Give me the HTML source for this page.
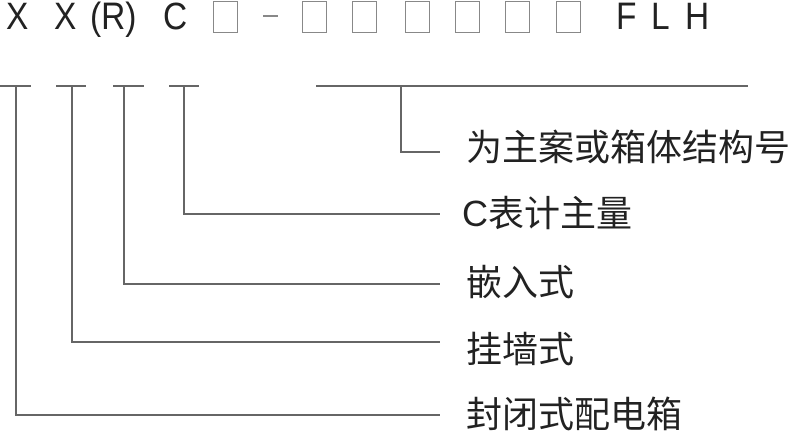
<!DOCTYPE html>
<html><head><meta charset="utf-8"><style>
html,body{margin:0;padding:0;background:#fff;width:800px;height:436px;overflow:hidden}
.t{position:absolute;font-family:"Liberation Sans","Noto Sans CJK SC",sans-serif;color:#222;white-space:nowrap;line-height:1}
.h{font-size:38px;top:-2px;transform:scaleX(0.88);transform-origin:0 0}
.b{position:absolute;top:1px;width:25px;height:32px;border:1.5px solid #888;box-sizing:border-box}
.l{position:absolute;background:#666}
</style></head><body>
<div class="t h" style="left:6px">X</div>
<div class="t h" style="left:54px">X</div>
<div class="t h" style="left:90px">(R)</div>
<div class="t h" style="left:163px">C</div>
<div class="b" style="left:213px"></div>
<div class="l" style="left:263px;top:15px;width:15px;height:1.5px;background:#888"></div>
<div class="b" style="left:302px"></div>
<div class="b" style="left:352px"></div>
<div class="b" style="left:405px"></div>
<div class="b" style="left:455px"></div>
<div class="b" style="left:505px"></div>
<div class="b" style="left:556px"></div>
<div class="t h" style="left:616px">F</div>
<div class="t h" style="left:651px">L</div>
<div class="t h" style="left:685px">H</div>

<div class="l" style="left:0;top:85px;width:31px;height:1.5px"></div>
<div class="l" style="left:56px;top:85px;width:30px;height:1.5px"></div>
<div class="l" style="left:113px;top:85px;width:31px;height:1.5px"></div>
<div class="l" style="left:169px;top:85px;width:30px;height:1.5px"></div>
<div class="l" style="left:316px;top:85px;width:432px;height:1.5px"></div>

<div class="l" style="left:400px;top:85px;width:1.5px;height:67px"></div>
<div class="l" style="left:400px;top:151px;width:40px;height:1.5px"></div>
<div class="l" style="left:183px;top:85px;width:1.5px;height:129px"></div>
<div class="l" style="left:183px;top:213px;width:257px;height:1.5px"></div>
<div class="l" style="left:123px;top:85px;width:1.5px;height:199px"></div>
<div class="l" style="left:123px;top:283px;width:317px;height:1.5px"></div>
<div class="l" style="left:71px;top:85px;width:1.5px;height:257px"></div>
<div class="l" style="left:71px;top:341px;width:369px;height:1.5px"></div>
<div class="l" style="left:15px;top:85px;width:1.5px;height:330px"></div>
<div class="l" style="left:15px;top:414px;width:425px;height:1.5px"></div>

<div class="t" style="left:466px;top:130px;font-size:36px">为主案或箱体结构号</div>
<div class="t" style="left:462px;top:196px;font-size:36px">C表计主量</div>
<div class="t" style="left:466px;top:265px;font-size:36px">嵌入式</div>
<div class="t" style="left:466px;top:332px;font-size:36px">挂墙式</div>
<div class="t" style="left:466px;top:397px;font-size:36px">封闭式配电箱</div>
</body></html>
